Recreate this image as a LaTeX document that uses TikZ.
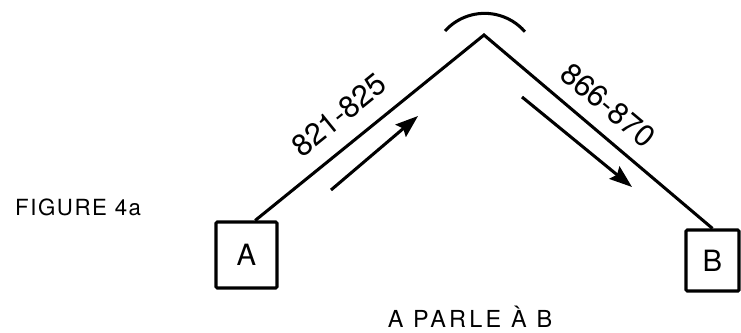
\documentclass[tikz,border=0pt]{standalone}
\usepackage{fontspec}
\setmainfont{TeX Gyre Heros}
\usetikzlibrary{arrows.meta, calc}

\begin{document}
\begin{tikzpicture}[
        x=0.03cm, y=0.03cm,
        >={Stealth[length=0.68cm, width=0.48cm, inset=0.1cm]},
        station/.style={draw, line width=2.6pt, rounded corners=1pt, inner sep=0pt, font=\fontsize{25}{29}\selectfont},
        link/.style={line width=2.6pt},
        freq/.style={font=\fontsize{26}{30}\selectfont},
        caption/.style={font=\fontsize{20}{24}\selectfont\addfontfeature{LetterSpace=14}},
        figlabel/.style={font=\fontsize{19}{23}\selectfont\addfontfeature{LetterSpace=7}}
    ]
    \useasboundingbox (0,0) rectangle (741,332);

    % --- Stations ---
    \node[station, minimum width=1.83cm, minimum height=1.98cm] (A) at (246.5,77) {A};
    \node[station, minimum width=1.59cm, minimum height=1.83cm] (B) at (712.5,71.5) {B};

    % --- Summit and its arc ---
    \coordinate (top) at (484,297);
    \coordinate (arcstart) at (445,301);
    \draw[link] (arcstart) arc[start angle=138, end angle=41, radius=1.6cm];

    % --- Path from A over the summit to B ---
    \draw[link, line join=miter] ([xshift=0.26cm]A.north) -- (top) -- (B.north);

    % --- Direction arrows ---
    \coordinate (uptail) at (331,142);
    \coordinate (uphead) at (418,216);
    \coordinate (downtail) at (522,235);
    \coordinate (downhead) at (632,145);
    \draw[link, ->] (uptail) -- (uphead);
    \draw[link, ->] (downtail) -- (downhead);

    % --- Frequencies ---
    \node[freq, rotate=39] (upfreq) at (339,217) {821-825};
    \node[freq, rotate=-40] (downfreq) at (608,227) {866-870};

    % --- Captions ---
    \node[figlabel, anchor=west] (fig) at (11,125) {FIGURE 4a};
    \node[caption] (talk) at (470,15.5) {A PARLE À B};

\end{tikzpicture}
\end{document}
